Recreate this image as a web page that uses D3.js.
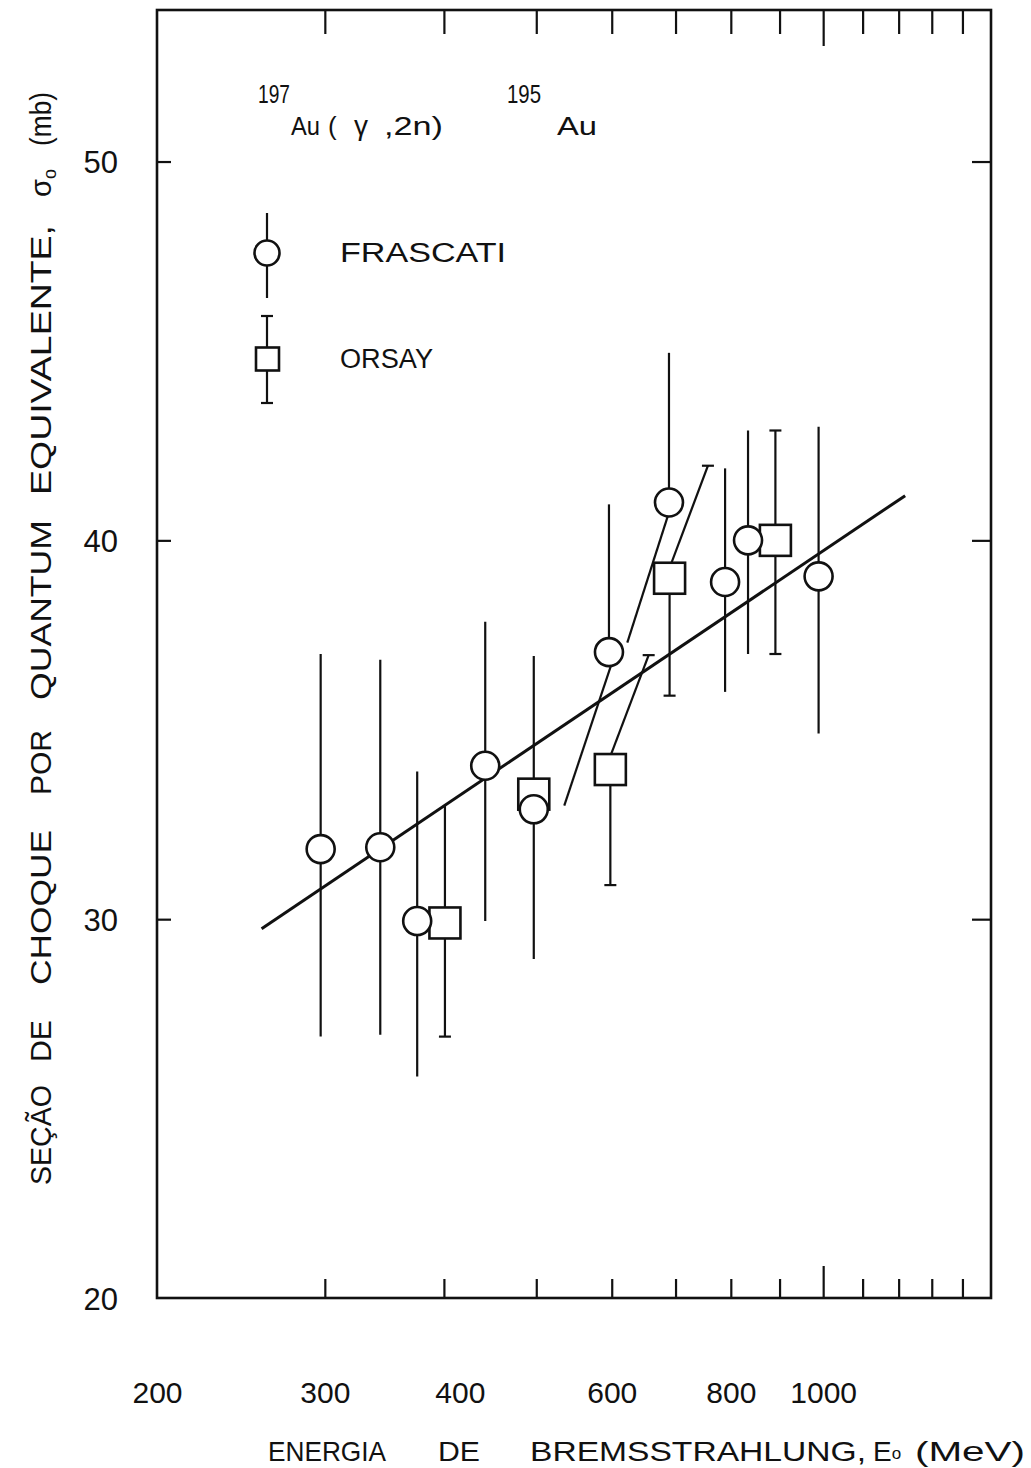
<!DOCTYPE html>
<html>
<head>
<meta charset="utf-8">
<script src="https://cdn.jsdelivr.net/npm/d3@7"></script>
<style>
  body { margin: 0; background: #fff; }
  svg text { font-family: "Liberation Sans", Arial, sans-serif; fill: #111; }
</style>
</head>
<body>
<div id="chart"></div>
<script>
// Frascati points (circles): energy MeV, cross section mb, bar ends (null = no bar)
var frascatiE  = [297, 343, 375, 442, 497, 596, 689, 789, 834, 989];
var frascatiS  = [31.85, 31.9, 29.95, 34.05, 32.9, 37.05, 41.0, 38.9, 40.0, 39.05];
var frascatiHi = [37.0, 36.85, 33.9, 37.85, 36.95, 40.95, 44.95, 41.9, 42.9, 43.0];
var frascatiLo = [26.9, 26.95, 25.85, 29.95, 28.95, null, null, 36.0, 37.0, 34.9];

// Orsay points (squares)
var orsayE  = [401, 497, 598, 690, 891];
var orsayS  = [29.9, 33.3, 33.95, 39.0, 40.0];
var orsayHi = [33.0, null, null, null, 42.9];
var orsayLo = [26.9, null, 30.9, 35.9, 37.0];
var orsayCapHi = [false, false, false, false, true];
var orsayCapLo = [true, false, true, true, true];

// displaced (slanted) error bars
var slantE0 = [599, 599, 687, 693];
var slantS0 = [36.7, 34.35, 40.64, 39.4];
var slantE1 = [535, 656, 623, 757];
var slantS1 = [33.0, 36.97, 37.3, 41.97];
var slantCap = [false, true, false, true];

// fitted line
var fitE = [257.5, 1219];
var fitS = [29.75, 41.18];

// axes
var xTicks = [300, 400, 500, 600, 700, 800, 900, 1000, 1100, 1200, 1300, 1400];
var xLabels = [200, 300, 400, 600, 800, 1000];
var yTicks = [30, 40, 50];
var yLabels = [20, 30, 40, 50];

var ink = "#111";
var svg = d3.select("#chart").append("svg").attr("width", 1031).attr("height", 1468);
svg.append("rect").attr("width", 1031).attr("height", 1468).attr("fill", "#fff");

var x = d3.scaleLog().domain([200, 1500]).range([157, 991]);
var y = d3.scaleLinear().domain([20, 54]).range([1298, 10]);

// ticks
function styleAxis(g) {
  g.select(".domain").remove();
  g.selectAll(".tick line").attr("stroke", ink).attr("stroke-width", 2.2);
}
var axBottom = svg.append("g").attr("transform", "translate(0,1298)")
  .call(d3.axisBottom(x).tickValues(xTicks).tickSize(-19).tickFormat(""));
styleAxis(axBottom);
axBottom.selectAll(".tick line").filter(function (d) { return d === 1000; }).attr("y2", -32);

var axTop = svg.append("g").attr("transform", "translate(0,10)")
  .call(d3.axisTop(x).tickValues(xTicks).tickSize(-24).tickFormat(""));
styleAxis(axTop);
axTop.selectAll(".tick line").filter(function (d) { return d === 1000; }).attr("y2", 36);

var axLeft = svg.append("g").attr("transform", "translate(157,0)")
  .call(d3.axisLeft(y).tickValues(yTicks).tickSize(-14).tickFormat(""));
styleAxis(axLeft);
var axRight = svg.append("g").attr("transform", "translate(991,0)")
  .call(d3.axisRight(y).tickValues(yTicks).tickSize(-19).tickFormat(""));
styleAxis(axRight);

// tick labels
var xl = svg.append("g").attr("transform", "translate(0,1298)")
  .call(d3.axisBottom(x).tickValues(xLabels).tickSize(0).tickPadding(84).tickFormat(d3.format("d")));
xl.select(".domain").remove();
xl.selectAll("text").style("font-size", "30px").attr("fill", ink)
  .attr("dx", function (d) { return d === 400 ? 16 : 0; });

var yl = svg.append("g").attr("transform", "translate(157,0)")
  .call(d3.axisLeft(y).tickValues(yLabels).tickSize(0).tickPadding(39).tickFormat(d3.format("d")));
yl.select(".domain").remove();
yl.selectAll("text").style("font-size", "31px").attr("fill", ink).attr("dy", "0.36em");

// frame
svg.append("rect").attr("x", 157).attr("y", 10).attr("width", 834).attr("height", 1288)
  .attr("fill", "none").attr("stroke", ink).attr("stroke-width", 2.6);

// fit line
var fit = fitE.map(function (e, i) { return [e, fitS[i]]; });
svg.append("path").datum(fit)
  .attr("d", d3.line().x(function (d) { return x(d[0]); }).y(function (d) { return y(d[1]); }))
  .attr("stroke", ink).attr("stroke-width", 3).attr("fill", "none");

// data
var frascati = frascatiE.map(function (e, i) {
  return { e: e, s: frascatiS[i], hi: frascatiHi[i], lo: frascatiLo[i] };
});
var orsay = orsayE.map(function (e, i) {
  return { e: e, s: orsayS[i], hi: orsayHi[i], lo: orsayLo[i], capHi: orsayCapHi[i], capLo: orsayCapLo[i] };
});
var slants = slantE0.map(function (e, i) {
  return { e0: e, s0: slantS0[i], e1: slantE1[i], s1: slantS1[i], cap: slantCap[i] };
});

function bars(data) {
  svg.append("g").selectAll("line").data(data).enter().append("line")
    .attr("x1", function (d) { return x(d.e); })
    .attr("x2", function (d) { return x(d.e); })
    .attr("y1", function (d) { return y(d.hi == null ? d.s : d.hi); })
    .attr("y2", function (d) { return y(d.lo == null ? d.s : d.lo); })
    .attr("stroke", ink).attr("stroke-width", 2.2);
}
bars(frascati);
bars(orsay);

var caps = [];
orsay.forEach(function (d) {
  if (d.capHi) caps.push([x(d.e), y(d.hi)]);
  if (d.capLo) caps.push([x(d.e), y(d.lo)]);
});
slants.forEach(function (d) { if (d.cap) caps.push([x(d.e1), y(d.s1)]); });
svg.append("g").selectAll("line").data(caps).enter().append("line")
  .attr("x1", function (d) { return d[0] - 6; })
  .attr("x2", function (d) { return d[0] + 6; })
  .attr("y1", function (d) { return d[1]; })
  .attr("y2", function (d) { return d[1]; })
  .attr("stroke", ink).attr("stroke-width", 2.2);

svg.append("g").selectAll("line").data(slants).enter().append("line")
  .attr("x1", function (d) { return x(d.e0); })
  .attr("y1", function (d) { return y(d.s0); })
  .attr("x2", function (d) { return x(d.e1); })
  .attr("y2", function (d) { return y(d.s1); })
  .attr("stroke", ink).attr("stroke-width", 2.2);

svg.append("g").selectAll("rect").data(orsay).enter().append("rect")
  .attr("x", function (d) { return x(d.e) - 15.5; })
  .attr("y", function (d) { return y(d.s) - 15.5; })
  .attr("width", 31).attr("height", 31)
  .attr("fill", "#fff").attr("stroke", ink).attr("stroke-width", 2.6);

svg.append("g").selectAll("circle").data(frascati).enter().append("circle")
  .attr("cx", function (d) { return x(d.e); })
  .attr("cy", function (d) { return y(d.s); })
  .attr("r", 14)
  .attr("fill", "#fff").attr("stroke", ink).attr("stroke-width", 2.6);

// helper for stretched lettering
function word(g, str, x0, x1, yy, size) {
  return g.append("text").attr("x", x0).attr("y", yy)
    .attr("textLength", x1 - x0).attr("lengthAdjust", "spacingAndGlyphs")
    .style("font-size", size + "px").text(str);
}
function plain(g, str, x0, yy, size) {
  return g.append("text").attr("x", x0).attr("y", yy).style("font-size", size + "px").text(str);
}

// legend
var lg = svg.append("g");
lg.append("line").attr("x1", 267).attr("x2", 267).attr("y1", 213).attr("y2", 298).attr("stroke", ink).attr("stroke-width", 2.2);
lg.append("circle").attr("cx", 267).attr("cy", 253).attr("r", 12.5).attr("fill", "#fff").attr("stroke", ink).attr("stroke-width", 2.6);
lg.append("line").attr("x1", 267).attr("x2", 267).attr("y1", 316).attr("y2", 403).attr("stroke", ink).attr("stroke-width", 2.2);
[316, 403].forEach(function (yy) {
  lg.append("line").attr("x1", 261).attr("x2", 273).attr("y1", yy).attr("y2", yy).attr("stroke", ink).attr("stroke-width", 2.2);
});
lg.append("rect").attr("x", 256).attr("y", 347.5).attr("width", 23).attr("height", 23).attr("fill", "#fff").attr("stroke", ink).attr("stroke-width", 2.6);
word(lg, "FRASCATI", 340, 506, 262, 27);
word(lg, "ORSAY", 340, 433, 368, 27);

// reaction title
var tt = svg.append("g");
word(tt, "197", 258, 290, 103, 25);
word(tt, "Au", 291, 320, 135, 26);
plain(tt, "(", 328, 135, 26);
plain(tt, "γ", 354, 135, 28);
word(tt, ",2n)", 384, 443, 135, 26);
word(tt, "195", 507, 541, 103, 25);
word(tt, "Au", 557, 597, 135, 26);

// y axis title, word by word, rotated
var yWords = [["SEÇÃO", 1185, 1085], ["DE", 1062, 1020], ["CHOQUE", 985, 830], ["POR", 795, 730],
  ["QUANTUM", 700, 520], ["EQUIVALENTE,", 495, 225], ["(mb)", 146, 92]];
var yt = svg.append("g").attr("transform", "translate(51,0) rotate(-90)");
yWords.forEach(function (w) { word(yt, w[0], -w[1], -w[2], 0, 29); });
var sig = yt.append("text").attr("x", -197).attr("y", 0).style("font-size", "29px");
sig.append("tspan").text("σ");
sig.append("tspan").attr("dy", 5).style("font-size", "18px").text("o");

// x axis title
var xt = svg.append("g");
word(xt, "ENERGIA", 268, 386, 1461, 28);
word(xt, "DE", 438, 480, 1461, 28);
word(xt, "BREMSSTRAHLUNG,", 530, 866, 1461, 28);
word(xt, "(MeV)", 915, 1025, 1461, 28);
var eo = xt.append("text").attr("x", 873).attr("y", 1461).style("font-size", "28px");
eo.append("tspan").text("E");
eo.append("tspan").attr("dy", -2).style("font-size", "17px").text("o");
</script>
</body>
</html>
